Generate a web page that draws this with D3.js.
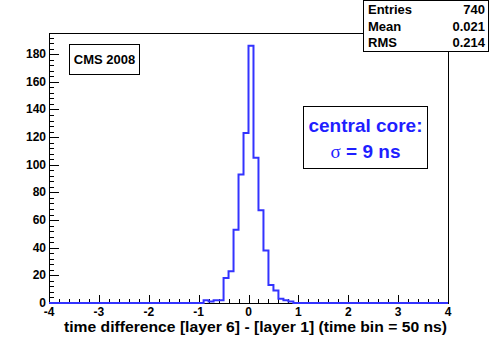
<!DOCTYPE html>
<html>
<head>
<meta charset="utf-8">
<script src="https://cdn.jsdelivr.net/npm/d3@7"></script>
<style>
  body { margin: 0; background: #fff; }
  svg { display: block; font-family: "Liberation Sans", Arial, sans-serif; font-weight: bold; }
</style>
</head>
<body>
<svg width="498" height="338"></svg>
<script>
// histogram contents: bins of width 0.1, everything outside is empty
const binStart = [-0.9, -0.8, -0.7, -0.6, -0.5, -0.4, -0.3, -0.2, -0.1, 0.0, 0.1, 0.2, 0.3, 0.4, 0.5, 0.6, 0.7, 0.8]
const binCounts = [2, 1, 2, 2, 18, 23, 53, 93, 123, 186, 105, 67, 38, 13, 9, 3, 2, 1]
const binWidth = 0.1

const xTicks = [-4, -3, -2, -1, 0, 1, 2, 3, 4]
const yTicks = [0, 20, 40, 60, 80, 100, 120, 140, 160, 180]

const statNames = ['Entries', 'Mean', 'RMS']
const statValues = ['740', '0.021', '0.214']

const xTitle = 'time difference [layer 6] - [layer 1] (time bin = 50 ns)'

const frameL = 49, frameR = 448, frameT = 33, frameB = 303

const x = d3.scaleLinear().domain([-4, 4]).range([frameL, frameR])
const y = d3.scaleLinear().domain([0, 195.3]).range([frameB, frameT])

const svg = d3.select('svg')

// frame
svg.append('rect')
    .attr('x', frameL + 0.5).attr('y', frameT + 0.5)
    .attr('width', frameR - frameL).attr('height', frameB - frameT)
    .attr('fill', 'none').attr('stroke', '#000').attr('stroke-width', 1)

// minor + major ticks, drawn inside the frame like ROOT does
const xMinor = d3.range(-4, 4.001, 0.2)
svg.append('g').selectAll('line')
    .data(xMinor)
    .enter().append('line')
    .attr('x1', d => Math.round(x(d)) + 0.5).attr('x2', d => Math.round(x(d)) + 0.5)
    .attr('y1', frameB)
    .attr('y2', d => Math.abs(d - Math.round(d)) < 1e-6 ? frameB - 8 : frameB - 4)
    .attr('stroke', '#000')

const yMinor = d3.range(0, 195, 4)
svg.append('g').selectAll('line')
    .data(yMinor)
    .enter().append('line')
    .attr('y1', d => Math.round(y(d)) + 0.5).attr('y2', d => Math.round(y(d)) + 0.5)
    .attr('x1', frameL)
    .attr('x2', d => d % 20 === 0 ? frameL + 10 : frameL + 5)
    .attr('stroke', '#000')

// tick labels
svg.append('g').selectAll('text')
    .data(xTicks)
    .enter().append('text')
    .attr('x', d => x(d))
    .attr('y', 316)
    .attr('text-anchor', 'middle')
    .attr('font-size', 12)
    .text(d => d)

svg.append('g').selectAll('text')
    .data(yTicks)
    .enter().append('text')
    .attr('x', 46)
    .attr('y', d => y(d) + 4)
    .attr('text-anchor', 'end')
    .attr('font-size', 12)
    .text(d => d)

svg.append('text')
    .attr('x', 64)
    .attr('y', 332)
    .attr('font-size', 15)
    .attr('textLength', 383)
    .attr('lengthAdjust', 'spacingAndGlyphs')
    .text(xTitle)

// the histogram as a step line over the full range
const steps = [[-4, 0]]
binStart.forEach((b, i) => {
    steps.push([b, 0 === i ? 0 : binCounts[i - 1]])
    steps.push([b, binCounts[i]])
})
steps.push([binStart[binStart.length - 1] + binWidth, binCounts[binCounts.length - 1]])
steps.push([binStart[binStart.length - 1] + binWidth, 0])
steps.push([4, 0])

const line = d3.line()
    .x(d => x(d[0]))
    .y(d => y(d[1]))

svg.append('path')
    .attr('d', line(steps))
    .attr('fill', 'none')
    .attr('stroke', '#3333ff')
    .attr('stroke-width', 2)

// stats box
const stats = svg.append('g')
stats.append('rect')
    .attr('x', 363.5).attr('y', 0.5)
    .attr('width', 125).attr('height', 51)
    .attr('fill', '#fff').attr('stroke', '#000')
statNames.forEach((n, i) => {
    stats.append('text')
        .attr('x', 368).attr('y', 14 + i * 16.5)
        .attr('font-size', 13)
        .text(n)
    stats.append('text')
        .attr('x', 485).attr('y', 14 + i * 16.5)
        .attr('text-anchor', 'end')
        .attr('font-size', 13)
        .text(statValues[i])
})

// CMS label
svg.append('rect')
    .attr('x', 69.5).attr('y', 44.5)
    .attr('width', 70).attr('height', 30)
    .attr('fill', '#fff').attr('stroke', '#000')
svg.append('text')
    .attr('x', 104.5).attr('y', 64)
    .attr('text-anchor', 'middle')
    .attr('font-size', 13)
    .text('CMS 2008')

// central core label
svg.append('rect')
    .attr('x', 303.5).attr('y', 106.5)
    .attr('width', 124).attr('height', 62)
    .attr('fill', '#fff').attr('stroke', '#000')
svg.append('text')
    .attr('x', 365.5).attr('y', 132)
    .attr('text-anchor', 'middle')
    .attr('font-size', 19)
    .attr('fill', '#1f1fff')
    .text('central core:')
const sig = svg.append('text')
    .attr('x', 365.5).attr('y', 158)
    .attr('text-anchor', 'middle')
    .attr('font-size', 19)
    .attr('fill', '#1f1fff')
sig.append('tspan')
    .attr('font-family', '"Liberation Serif", serif')
    .attr('font-weight', 'normal')
    .text('σ')
sig.append('tspan').text(' = 9 ns')
</script>
</body>
</html>
